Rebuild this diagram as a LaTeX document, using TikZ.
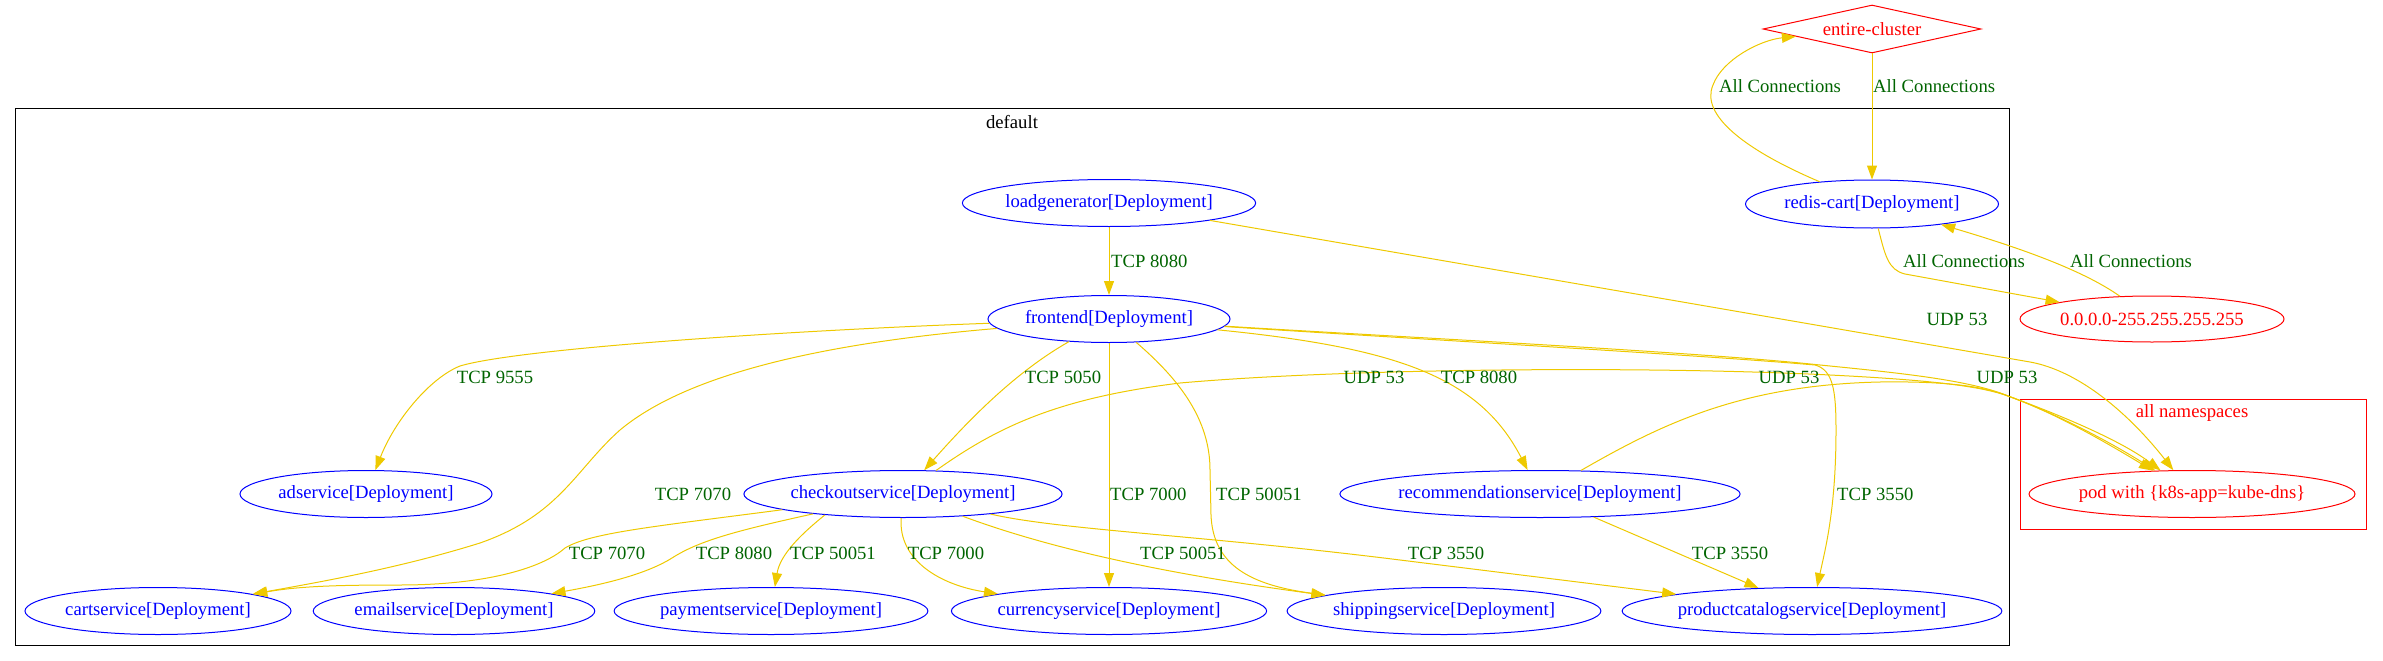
\documentclass[tikz,border=0pt]{standalone}
\usepackage{fontspec}
\setmainfont{Liberation Serif}
\usepackage{tikz}
\usetikzlibrary{shapes.geometric,arrows.meta}

\definecolor{svcblue}{RGB}{0,0,255}
\definecolor{extred}{RGB}{255,0,0}
\definecolor{lblgreen}{RGB}{0,100,0}
\definecolor{connyellow}{RGB}{238,201,0}

\tikzset{
  gv/.style={font=\fontsize{18.67}{22}\selectfont},
  svc/.style={gv,ellipse,draw=svcblue,text=svcblue,line width=1pt,inner sep=0pt,minimum height=47pt},
  ext/.style={gv,ellipse,draw=extred,text=extred,line width=1pt,inner sep=0pt,minimum height=47pt},
  lbl/.style={gv,text=lblgreen,inner sep=0pt},
  conn/.style={draw=connyellow,line width=1pt,-{Triangle[length=14pt,width=10pt]}},
}

\begin{document}
\begin{tikzpicture}[x=1pt,y=-1pt]
        \useasboundingbox (0,0) rectangle (2383,661);
        % clusters
        \draw[line width=1pt] (15,108) rectangle (2009,645);
        \node[gv,inner sep=0pt] (nsdefault) at (1012,122) {default};
        \draw[extred,line width=1pt] (2020,399) rectangle (2366,529);
        \node[gv,text=extred,inner sep=0pt] (nsall) at (2192,413) {all namespaces};

        \begin{scope}[every node/.style={svc}]
          \node[minimum width=293pt] (loadgen) at (1109,203) {loadgenerator[Deployment]};
          \node[minimum width=242pt] (frontend) at (1109,319) {frontend[Deployment]};
          \node[minimum width=252pt] (adsvc) at (366,494) {adservice[Deployment]};
          \node[minimum width=316pt] (checkout) at (903,494) {checkoutservice[Deployment]};
          \node[minimum width=392pt] (recommend) at (1540,494) {recommendationservice[Deployment]};
          \node[minimum width=266pt] (cart) at (158,611) {cartservice[Deployment]};
          \node[minimum width=280pt] (email) at (454,611) {emailservice[Deployment]};
          \node[minimum width=308pt] (payment) at (771,611) {paymentservice[Deployment]};
          \node[minimum width=314pt] (currency) at (1109,611) {currencyservice[Deployment]};
          \node[minimum width=309pt] (shipping) at (1444,611) {shippingservice[Deployment]};
          \node[minimum width=374pt] (catalog) at (1812,611) {productcatalogservice[Deployment]};
          \node[minimum width=253pt,minimum height=48pt] (rediscart) at (1872,204) {redis-cart[Deployment]};
        \end{scope}
        \begin{scope}[every node/.style={ext}]
          \node[diamond,aspect=4.5,minimum width=218pt,minimum height=48pt] (entire) at (1872,29) {entire-cluster};
          \node[minimum width=264pt,minimum height=46pt] (ipblock) at (2152,319) {0.0.0.0-255.255.255.255};
          \node[minimum width=326pt] (kubedns) at (2192,494) {pod with \{k8s-app=kube-dns\}};
        \end{scope}

        \begin{scope}[every path/.style={conn}]
          \path (loadgen) -- (frontend);
          \path (loadgen) -- (2030,362) .. controls (2080,371) and (2130,415) .. (kubedns);
          \path (frontend) .. controls (800,330) and (520,348) .. (460,366) .. controls (430,378) and (395,420) .. (adsvc);
          \path (frontend) .. controls (800,345) and (680,380) .. (620,430) .. controls (575,470) and (560,515) .. (480,543) .. controls (400,568) and (320,582) .. (cart);
          \path (frontend) .. controls (1010,375) and (960,430) .. (checkout);
          \path (frontend) -- (currency);
          \path (frontend) .. controls (1180,380) and (1210,420) .. (1210,470) -- (1211,515) .. controls (1213,565) and (1250,585) .. (shipping);
          \path (frontend) .. controls (1400,348) and (1480,378) .. (recommend);
          \path (frontend) .. controls (1400,338) and (1700,355) .. (1815,365) .. controls (1833,370) and (1836,390) .. (1836,430) .. controls (1836,510) and (1825,550) .. (catalog);
          \path (frontend) .. controls (1400,337) and (1700,352) .. (1820,365) .. controls (1900,373) and (1970,380) .. (2008,396) .. controls (2060,415) and (2120,440) .. (kubedns);
          \path (checkout) .. controls (1000,425) and (1060,398) .. (1180,383) .. controls (1350,368) and (1650,366) .. (1830,375) .. controls (1930,380) and (1980,386) .. (2008,396) .. controls (2060,415) and (2115,445) .. (kubedns);
          \path (checkout) .. controls (650,527) and (590,533) .. (565,548) .. controls (540,570) and (480,585) .. (400,585) .. controls (340,585) and (300,586) .. (cart);
          \path (checkout) .. controls (740,530) and (700,540) .. (672,558) .. controls (645,575) and (600,585) .. (email);
          \path (checkout.195) .. controls (800,535) and (780,555) .. (payment);
          \path (checkout) .. controls (898,560) and (940,585) .. (currency);
          \path (checkout) .. controls (1040,545) and (1150,572) .. (shipping);
          \path (checkout) .. controls (1060,530) and (1200,535) .. (1400,560) -- (catalog);
          \path (recommend) .. controls (1660,425) and (1740,385) .. (1880,382) .. controls (1950,381) and (1985,387) .. (2008,396) .. controls (2060,415) and (2110,445) .. (kubedns);
          \path (recommend) -- (catalog);
          \path (entire) -- (rediscart);
          \path (rediscart) .. controls (1745,150) and (1700,115) .. (1713,85) .. controls (1722,60) and (1760,40) .. (entire);
          \path (rediscart) .. controls (1885,255) and (1888,270) .. (1905,274) -- (ipblock);
          \path (ipblock) .. controls (2080,268) and (2010,245) .. (rediscart);
        \end{scope}

        \begin{scope}[every node/.style={lbl}]
          \node[anchor=west] (tlgfe) at (1111,261) {TCP 8080};
          \node (tlgdns) at (1957,319) {UDP 53};
          \node (tfead) at (495,377) {TCP 9555};
          \node (tfeco) at (1063,377) {TCP 5050};
          \node (tcodns) at (1374,377) {UDP 53};
          \node (tfere) at (1479,377) {TCP 8080};
          \node (tredns) at (1789,377) {UDP 53};
          \node (tfedns) at (2007,377) {UDP 53};
          \node (tfeca) at (693,494) {TCP 7070};
          \node[anchor=west] (tfecu) at (1110,494) {TCP 7000};
          \node[anchor=west] (tfesh) at (1216,494) {TCP 50051};
          \node[anchor=west] (tfepc) at (1837,494) {TCP 3550};
          \node (tcoca) at (607,553) {TCP 7070};
          \node (tcoem) at (734,553) {TCP 8080};
          \node (tcopa) at (833,553) {TCP 50051};
          \node (tcocu) at (946,553) {TCP 7000};
          \node (tcosh) at (1183,553) {TCP 50051};
          \node (tcopc) at (1446,553) {TCP 3550};
          \node (trepc) at (1730,553) {TCP 3550};
          \node (treec) at (1780,86) {All Connections};
          \node[anchor=west] (tecre) at (1873,86) {All Connections};
          \node (treip) at (1964,261) {All Connections};
          \node (tipre) at (2131,261) {All Connections};
        \end{scope}
      \end{tikzpicture}
\end{document}
